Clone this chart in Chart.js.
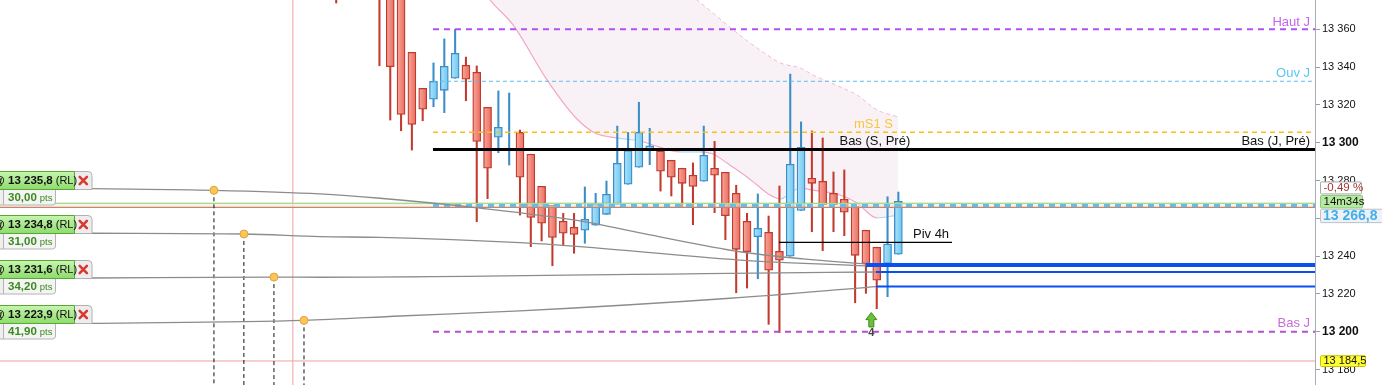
<!DOCTYPE html>
<html><head><meta charset="utf-8">
<script src="https://cdn.jsdelivr.net/npm/chart.js@4.4.1/dist/chart.umd.min.js"></script>
<style>html,body{margin:0;padding:0;background:#fff;overflow:hidden}</style>
</head><body>
<canvas id="c" width="1382" height="385"></canvas>
<script>
// ---------- data ----------
const candleIndex = [-5,-4,-3,-2,-1,0,1,2,3,4,5,6,7,8,9,10,11,12,13,14,15,16,17,18,19,20,21,22,23,24,25,26,27,28,29,30,31,32,33,34,35,36,37,38,39,40,41,42,43,44,45,46,47];
const opens  = [13395,13402,13398,13396,13392,13386,13381,13347.8,13328.8,13323.0,13327.7,13334.1,13341.0,13337.2,13318.7,13302.9,13305.5,13305.5,13293.9,13276.9,13266.9,13258.4,13255.2,13253.7,13256.3,13262.1,13267.4,13278.0,13287.0,13296.1,13295.6,13290.7,13286.5,13282.8,13279.6,13286.5,13284.3,13273.2,13258.4,13250.3,13252.6,13242.5,13239.9,13264.2,13281.2,13279.6,13273.2,13270.1,13266.5,13253.7,13244.7,13236.1,13241.0];
const highs  = [13400,13408,13406,13404,13398,13391,13386,13347.8,13328.8,13342.2,13354.9,13360.0,13345.3,13340.6,13318.7,13327.4,13326.3,13306.7,13293.9,13276.9,13266.9,13262.6,13262.6,13276.6,13273.2,13279.7,13308.8,13305.4,13321.4,13307.6,13295.6,13290.7,13286.5,13289.3,13308.8,13300.7,13284.3,13277.5,13262.6,13272.9,13261.2,13277.1,13336.3,13311.0,13306.2,13302.5,13284.5,13285.6,13266.5,13253.7,13244.7,13271.4,13273.9];
const lows   = [13373.9,13384,13381,13382,13340.7,13312.0,13306.3,13296.1,13311.6,13319.0,13315.9,13334.1,13322.2,13258.2,13270.4,13294.7,13288.2,13261.7,13245.0,13248.0,13234.9,13245.7,13241.5,13246.8,13256.3,13262.1,13267.4,13278.0,13287.0,13288.4,13274.4,13271.8,13266.1,13256.6,13279.6,13263.0,13248.7,13220.6,13223.1,13228.0,13203.9,13199.5,13239.9,13264.2,13252.9,13242.9,13252.9,13250.8,13215.3,13220.3,13212.2,13218.5,13241.0];
const closes = [13385,13392,13388,13386,13379,13340.2,13315.0,13309.7,13317.7,13332.5,13340.4,13347.3,13333.6,13300.7,13286.5,13308.1,13305.5,13281.7,13260.5,13257.4,13249.9,13252.1,13251.5,13259.5,13267.4,13272.7,13289.1,13295.8,13305.5,13298.3,13284.9,13281.7,13278.5,13276.9,13293.3,13282.8,13261.4,13243.6,13242.3,13254.7,13232.5,13237.8,13288.6,13297.6,13278.5,13267.2,13267.2,13263.2,13240.4,13236.0,13227.2,13246.4,13269.0];

const tickValues = [13180,13200,13220,13240,13260,13280,13300,13320,13340,13360];

// price levels
const hautJ = 13360, ouvJ = 13332.5, ms1S = 13305.5, basPre = 13296.4, basJ = 13200;
const piv4h = 13247.3, lastPrice = 13266.8, greenLevel = 13267.9, redLevel = 13265.8, lowMark = 13184.5;
const levelStart = 3.95, piv4hFrom = 35.96, piv4hTo = 51.96;

// orders
const orderPrices = [13235.8, 13234.8, 13231.6, 13223.9];
const orderPts = ['30,00','31,00','34,20','41,90'];
const orderLineStart = [44.0, 44.0, 44.93, 44.93];

// order link curves
const curve1X = [-27.6,-16.31,-6.5,-0.95,8.3,17.55,24.03,32.35,38.2,44.0];
const curve1Y = [13275.7,13274.8,13272.9,13270.6,13265.4,13258.6,13251.2,13242.3,13238.5,13235.8];
const curve2X = [-27.6,-13.54,-6.5,-0.95,12.0,17.55,32.35,44.0];
const curve2Y = [13252.1,13251.7,13250.3,13249.9,13247.1,13245.0,13237.9,13234.8];
const curve3X = [-27.6,-10.76,-6.5,31.43,44.93];
const curve3Y = [13228.4,13228.9,13228.8,13230.9,13231.6];
const curve4X = [-27.6,-7.98,0.9,12.0,31.43,44.93];
const curve4Y = [13204.4,13206.0,13208.3,13211.0,13217.7,13223.9];
const dotX = [-16.31,-13.54,-10.76,-7.98];
const dotY = [13274.8,13251.7,13228.9,13206.0];
const sessionLine = -9.01;

// band
const bandX = [7.37,9.23,11.36,14.5,17.09,18.94,20.97,23.1,24.3,26.8,28.65,29.85,31.15,33.0,33.93,35.13,36.05,37.9,39.1,41.6,43.17,45.02,46.96];
const bandLower = [13391.4,13375.5,13362.3,13333.2,13313.6,13305.1,13302.5,13300.9,13298.8,13295.1,13295.1,13294.0,13289.2,13281.9,13277.6,13272.3,13270.2,13276.0,13274.9,13272.3,13268.1,13260.2,13261.7];
const bandUpper = [13475.0,13466.5,13456.5,13441.6,13428.9,13420.5,13410.4,13400.4,13395.1,13382.9,13374.2,13368.6,13362.3,13353.9,13350.1,13345.4,13342.2,13339.5,13335.8,13329.5,13325.2,13317.3,13313.6];
const bandBlueSegs = [6, 9, 16, 21];

const arrowIdx = 44.5, arrowTip = 13210.1, arrowBase = 13202.5;

const X_MIN = -36.1, X_MAX = 85.54, Y_MIN = 13171.8, Y_MAX = 13375.5;
const FONT = '"Liberation Sans", Arial, Helvetica, sans-serif';

// ---------- datasets ----------
const candles = candleIndex.map((x,i)=>({x, o:opens[i], h:highs[i], l:lows[i], c:closes[i], up: closes[i] >= opens[i]}));
const RED_B = '#c03a2e', BLU_B = '#3a8dc8';
const bodyFill = (c0, c1, fallback) => c => {
  const xs = c.chart.scales && c.chart.scales.x;
  if (!xs || !c.raw) return fallback;
  const px = xs.getPixelForValue(c.raw.x);
  if (!isFinite(px)) return fallback;
  const g = c.chart.ctx.createLinearGradient(px-4, 0, px+4, 0);
  g.addColorStop(0, c0); g.addColorStop(1, c1);
  return g;
};
const hline = (v, from, to, color, width, dash, order, extra={}) => Object.assign({
  type:'line', data:[{x:from,y:v},{x:to,y:v}], borderColor:color, borderWidth:width,
  borderDash:dash||[], pointRadius:0, fill:false, order }, extra);
const curve = (xs, ys) => ({type:'line', data: xs.map((x,i)=>({x,y:ys[i]})), borderColor:'#8c8c8c',
  borderWidth:1.3, pointRadius:0, fill:false, cubicInterpolationMode:'monotone', order:20});

const datasets = [
  {type:'line', data: bandX.map((x,i)=>({x,y:bandUpper[i]})), borderColor:'#f2a6c9', borderWidth:1,
   borderDash:[4,3], pointRadius:0, fill:false, cubicInterpolationMode:'monotone', order:100},
  {type:'line', data: bandX.map((x,i)=>({x,y:bandLower[i]})), borderColor:'#f2a6c9', borderWidth:1.2,
   pointRadius:0, fill:'-1', backgroundColor:'rgba(244,234,240,0.6)', cubicInterpolationMode:'monotone', order:99,
   segment:{borderColor: c => bandBlueSegs.includes(c.p0DataIndex) ? '#a6d8f6' : '#f2a6c9'}},
  hline(greenLevel, X_MIN-1, X_MAX+1, '#86c866', 1.2, null, 41),
  hline(redLevel, X_MIN-1, X_MAX+1, '#d0806e', 1.2, null, 40, {fill:'-1', backgroundColor:'rgba(228,240,205,0.55)'}),
  hline(lowMark, X_MIN-1, X_MAX+1, '#eba3a3', 1, null, 40),
  {type:'line', data:[{x:sessionLine,y:Y_MIN-5},{x:sessionLine,y:Y_MAX+5}], borderColor:'#eba3a3', borderWidth:1, pointRadius:0, order:90},
  // wicks
  {type:'bar', data: candles.filter(k=>!k.up).map(k=>({x:k.x,y:[k.l,k.h]})), backgroundColor:RED_B, barThickness:1.4, grouped:false, order:60},
  {type:'bar', data: candles.filter(k=>k.up).map(k=>({x:k.x,y:[k.l,k.h]})), backgroundColor:BLU_B, barThickness:1.4, grouped:false, order:60},
  // bodies
  {type:'bar', data: candles.filter(k=>!k.up).map(k=>({x:k.x,y:[k.o,k.c]})), backgroundColor:bodyFill('#f7a89c','#ea6c5e','#f08276'), borderColor:RED_B, borderWidth:1.3, borderSkipped:false, barThickness:8, grouped:false, order:55},
  {type:'bar', data: candles.filter(k=>k.up).map(k=>({x:k.x,y:[k.o,k.c]})), backgroundColor:bodyFill('#aee4fb','#6ec6ef','#86d2f4'), borderColor:BLU_B, borderWidth:1.3, borderSkipped:false, barThickness:8, grouped:false, order:55},
  // levels
  hline(lastPrice, levelStart, X_MAX+1, '#5cc0ec', 3, [6,5], 35),
  hline(hautJ, levelStart, X_MAX+1, '#b44ff2', 2, [6,5], 30),
  hline(ouvJ, levelStart, X_MAX+1, '#5cbcea', 1, [4,3], 30),
  hline(ms1S, levelStart, X_MAX+1, '#f5c21a', 1.5, [5,4], 30),
  hline(basPre, levelStart, X_MAX+1, '#000000', 3.2, null, 30),
  hline(basJ, levelStart, X_MAX+1, '#b64fd0', 2, [6,5], 30),
  hline(piv4h, piv4hFrom, piv4hTo, '#000000', 1.2, null, 30),
  curve(curve1X, curve1Y), curve(curve2X, curve2Y), curve(curve3X, curve3Y), curve(curve4X, curve4Y),
  ...dotX.map((x,i)=>({type:'line', data:[{x,y:dotY[i]},{x,y:Y_MIN-5}], borderColor:'#111', borderWidth:1, borderDash:[4,3], pointRadius:0, order:25})),
  ...orderPrices.map((p,i)=>hline(p, orderLineStart[i], X_MAX+1, '#0a4ff2', 2, null, 10)),
  {type:'line', data: dotX.map((x,i)=>({x,y:dotY[i]})), showLine:false, pointRadius:4, pointBackgroundColor:'#f9c65a', pointBorderColor:'#e3a23c', pointBorderWidth:1, order:5}
];

const fmt = v => { const s = String(Math.round(v)); return s.slice(0, s.length-3) + ' ' + s.slice(-3); };
const fmtDec = v => { const s = v.toFixed(1).replace('.', ','); const [a,b] = s.split(','); return a.slice(0,a.length-3)+' '+a.slice(-3)+','+b; };

function rr(ctx, x, y, w, h, r){ ctx.beginPath(); if (ctx.roundRect) ctx.roundRect(x,y,w,h,r); else ctx.rect(x,y,w,h); }

const overlay = {
  id:'overlay',
  afterDatasetsDraw(chart){
    const {ctx, chartArea:ca} = chart, xs = chart.scales.x, ys = chart.scales.y;
    const yp = v=>ys.getPixelForValue(v), xp = v=>xs.getPixelForValue(v);
    const t = (s,x,y,col,al,size=13,w='')=>{ctx.font=`${w} ${size}px ${FONT}`; ctx.fillStyle=col; ctx.textAlign=al; ctx.textBaseline='middle'; ctx.fillText(s,x,y);};
    ctx.save();
    const R = ca.right - 5;
    t('Haut J', R, yp(hautJ)-7, '#c466ee', 'right');
    t('Ouv J', R, yp(ouvJ)-8.3, '#5cc6f3', 'right');
    t('Bas (J, Pré)', R, yp(basPre)-7.8, '#111', 'right');
    t('Bas J', R, yp(basJ)-8, '#c86cd8', 'right');
    t('mS1 S', xp(46.5), yp(ms1S)-8, '#f8c63c', 'right');
    t('Bas (S, Pré)', xp(48.1), yp(basPre)-7.8, '#111', 'right');
    t('Piv 4h', xp(48.35), yp(piv4h)-8.3, '#111', 'left');
    const ax = xp(arrowIdx), ty = yp(arrowTip), by = yp(arrowBase);
    ctx.beginPath(); ctx.moveTo(ax,ty); ctx.lineTo(ax+5.5,ty+7); ctx.lineTo(ax+2.5,ty+7); ctx.lineTo(ax+2.5,by);
    ctx.lineTo(ax-2.5,by); ctx.lineTo(ax-2.5,ty+7); ctx.lineTo(ax-5.5,ty+7); ctx.closePath();
    ctx.fillStyle='#6cc03a'; ctx.fill(); ctx.strokeStyle='#3e8a1c'; ctx.lineWidth=1; ctx.stroke();
    t('4', ax, by+6, '#444', 'center', 11, 'bold');
    ctx.restore();
  },
  afterDraw(chart){
    const {ctx, chartArea:ca} = chart, ys = chart.scales.y;
    const yp = v=>ys.getPixelForValue(v);
    const t = (s,x,y,col,al,size,w='')=>{ctx.font=`${w} ${size}px ${FONT}`; ctx.fillStyle=col; ctx.textAlign=al; ctx.textBaseline='middle'; ctx.fillText(s,x,y); return ctx.measureText(s).width;};
    ctx.save();
    const bx = ca.right + 5.5;
    const lp = yp(lastPrice);
    rr(ctx, bx, lp-23.5, 41, 12, 1); ctx.fillStyle='#fff'; ctx.fill(); ctx.strokeStyle='#a8a8a8'; ctx.lineWidth=1; ctx.stroke();
    t('-0,49 %', bx+3, lp-17.3, '#a83232', 'left', 11.5);
    rr(ctx, bx, lp-10, 42, 12.5, 1); ctx.fillStyle='#b6eaa2'; ctx.fill(); ctx.strokeStyle='#8cc878'; ctx.stroke();
    t('14m34s', bx+3, lp-3.6, '#111', 'left', 11.5);
    rr(ctx, bx, lp+3.8, 62, 13.4, 1); ctx.fillStyle='#eef2f6'; ctx.fill(); ctx.strokeStyle='#b8c2ca'; ctx.stroke();
    t(fmtDec(lastPrice), bx+2.5, lp+10.6, '#45aee8', 'left', 14, 'bold');
    const lm = yp(lowMark);
    rr(ctx, bx, lm-5.3, 45, 10.8, 1); ctx.fillStyle='#ffff33'; ctx.fill(); ctx.strokeStyle='#c9c400'; ctx.stroke();
    t(fmtDec(lowMark), bx+3, lm+0.2, '#111', 'left', 11);

    const curvesY = [curve1Y, curve2Y, curve3Y, curve4Y];
    orderPrices.forEach((p,i)=>{
      const yB = Math.round(yp(curvesY[i][0])) + 0.5;
      ctx.fillStyle='#efefef'; ctx.strokeStyle='#b4b4b4'; ctx.lineWidth=1;
      rr(ctx, -5, yB, 8.5, 15.5, 0); ctx.fill(); ctx.stroke();
      rr(ctx, 3.5, yB, 52, 15.5, [0,0,3,0]); ctx.fillStyle='#f4f4f4'; ctx.fill(); ctx.stroke();
      const w1 = t(orderPts[i], 8, yB+8, '#3b8a1e', 'left', 11.5, 'bold');
      t('pts', 8+w1+3, yB+8.5, '#3b8a1e', 'left', 9.5);
      rr(ctx, 74.5, yB-18, 17.5, 18, [0,4,0,0]); ctx.fillStyle='#ededed'; ctx.fill(); ctx.strokeStyle='#b0b0b0'; ctx.stroke();
      ctx.strokeStyle='#d83a32'; ctx.lineWidth=2.6; ctx.lineCap='round'; ctx.beginPath();
      const cx=83.3, cy=yB-9; ctx.moveTo(cx-3.6,cy-3.6); ctx.lineTo(cx+3.6,cy+3.6); ctx.moveTo(cx+3.6,cy-3.6); ctx.lineTo(cx-3.6,cy+3.6); ctx.stroke();
      ctx.lineCap='butt'; ctx.lineWidth=1;
      const g = ctx.createLinearGradient(0, yB-18, 0, yB);
      g.addColorStop(0,'#c8f5b0'); g.addColorStop(1,'#8edb6c');
      rr(ctx, -5, yB-18, 79.5, 18, 0); ctx.fillStyle=g; ctx.fill(); ctx.strokeStyle='#58a834'; ctx.stroke();
      ctx.font=`bold 11.5px ${FONT}`; const wAt = ctx.measureText('@ ').width;
      t('@', 8-wAt, yB-8.5, '#111', 'left', 11.5, 'bold');
      const w2 = t(fmtDec(p), 8, yB-8.5, '#111', 'left', 11.5, 'bold');
      t('(RL)', 8+w2+3, yB-8.5, '#111', 'left', 11);
    });
    ctx.restore();
  }
};

new Chart(document.getElementById('c'), {
  type:'line',
  data:{datasets},
  options:{
    responsive:false, animation:false, events:[],
    layout:{padding:0, autoPadding:false},
    plugins:{legend:{display:false}, tooltip:{enabled:false}},
    scales:{
      x:{type:'linear', min:X_MIN, max:X_MAX, display:false, offset:false},
      y:{type:'linear', position:'right', min:Y_MIN, max:Y_MAX,
        afterBuildTicks: s => { s.ticks = tickValues.map(v=>({value:v})); },
        afterFit: s => { s.width = 67; s.paddingTop = 0; s.paddingBottom = 0; },
        grid:{drawOnChartArea:false, drawTicks:true, tickLength:5, color:'#95a0a6'},
        border:{display:true, color:'#a3adb3'},
        ticks:{padding:2, color:'#111', callback: v => fmt(v),
          font: c => (c.tick && c.tick.value % 100 === 0) ? {family:FONT, size:12, weight:'bold'} : {family:FONT, size:11}}
      }
    }
  },
  plugins:[overlay]
});
</script>
</body></html>
